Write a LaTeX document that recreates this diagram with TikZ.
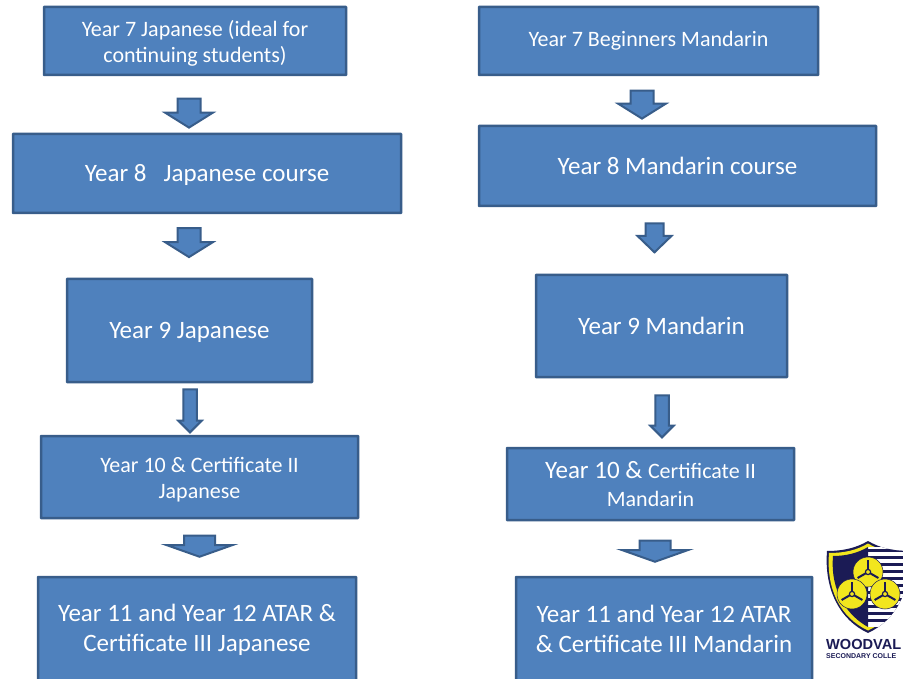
\documentclass[tikz,border=0pt]{standalone}
\usepackage{fontspec}
\usepackage{xcolor}
\setmainfont{Carlito}
\newfontfamily\logofont{Liberation Sans}
\usetikzlibrary{shapes.arrows}
\definecolor{boxfill}{HTML}{4F81BD}
\definecolor{boxline}{HTML}{385D8A}
\definecolor{logonavy}{HTML}{1B1B55}
\definecolor{logoyellow}{HTML}{F2E61E}
\begin{document}
\begin{tikzpicture}[x=1pt,y=-1pt]
		\tikzstyle{course}=[draw=boxline,line width=2.5pt,fill=boxfill,text=white,align=center,rounded corners=0.5pt,inner sep=0pt,font=\fontsize{25}{30}\selectfont]
		\tikzstyle{course_small}=[course,font=\fontsize{22}{26.5}\selectfont]
		\tikzstyle{low}=[text height=20pt]
		\tikzstyle{down}=[draw=boxline,line width=2pt,fill=boxfill,single arrow,rotate=-90,inner sep=0pt,text width=0pt,text depth=0pt,single arrow head indent=0pt]
		\tikzstyle{down_big}=[down,text height=21pt,single arrow head extend=12.5pt,single arrow tip angle=116]
		\tikzstyle{down_wide}=[down,text height=29pt,single arrow head extend=17.5pt,single arrow tip angle=141,minimum height=21pt]
		\tikzstyle{down_thin}=[down,text height=11.5pt,single arrow head extend=5pt,single arrow tip angle=90]
		\tikzstyle{logo_text}=[inner sep=0pt,anchor=west,text=logonavy]

		\clip (0,0) rectangle (903,679);
		\fill[white] (0,0) rectangle (903,679);

		\begin{scope}
			\node [course_small,text height=47pt,minimum width=302pt,minimum height=68pt] (J7) at (195,41) {Year 7 Japanese (ideal for\\continuing students)};
			\node [course,low,minimum width=388pt,minimum height=79pt] (J8) at (207,173.5) {Year 8\ \ \ Japanese course};
			\node [course,low,minimum width=245pt,minimum height=103pt] (J9) at (189.5,330.5) {Year 9 Japanese};
			\node [course_small,text height=47pt,minimum width=317pt,minimum height=82pt] (J10) at (199.5,477) {Year 10 \& Certificate II\\Japanese};
			\node [course,text height=50pt,minimum width=318pt,minimum height=104pt] (J11) at (197,629) {Year 11 and Year 12 ATAR \&\\Certificate III Japanese};

			\node [down_big,minimum height=29pt] (J7-8) at (189,109.5) {};
			\node [down_big,minimum height=29pt] (J8-9) at (189,239) {};
			\node [down_thin,minimum height=43pt] (J9-10) at (190,407.5) {};
			\node [down_wide] (J10-11) at (199.5,543.5) {};
		\end{scope}

		\begin{scope}
			\node [course_small,minimum width=339pt,minimum height=68pt] (M7) at (648.5,41) {Year 7 Beginners Mandarin};
			\node [course,minimum width=397pt,minimum height=80pt] (M8) at (677.5,166) {Year 8 Mandarin course};
			\node [course,minimum width=251pt,minimum height=102pt] (M9) at (661.5,326) {Year 9 Mandarin};
			\node [course,minimum width=287pt,minimum height=72pt] (M10) at (650.5,484) {Year 10 \& {\fontsize{22}{26}\selectfont Certificate II}\\[-2pt]{\fontsize{22}{26}\selectfont Mandarin}};
			\node [course,minimum width=296pt,minimum height=104pt] (M11) at (664,629) {Year 11 and Year 12 ATAR\\\& Certificate III Mandarin};

			\node [down_big,minimum height=28pt] (M7-8) at (642,101) {};
			\node [down_big,minimum height=29pt,text height=16pt,single arrow head extend=8pt,single arrow tip angle=92] (M8-9) at (654.5,233.5) {};
			\node [down_thin,minimum height=42pt] (M9-10) at (662,413) {};
			\node [down_wide] (M10-11) at (655,548.5) {};
		\end{scope}

		\begin{scope}
			\path[clip] (827,551) .. controls (843,551) and (856,548) .. (868,541) .. controls (880,548) and (893,551) .. (909,551) .. controls (912,590) and (896,620) .. (868,633) .. controls (840,620) and (824,590) .. (827,551) -- cycle;
			\fill[logonavy] (820,535) rectangle (915,640);
			\path[fill=logoyellow] (829,553) .. controls (845,553) and (857,550) .. (868,543.5) .. controls (879,550) and (891,553) .. (907,553) .. controls (910,590) and (895,618) .. (868,630.5) .. controls (841,618) and (826,590) .. (829,553) -- cycle;
			\fill[white] (868,547) rectangle (915,627);
			\foreach \y in {549,556,...,621}
				\fill[logonavy] (868,\y) rectangle (915,\y+3);
			\path[fill=logonavy] (868,547) -- (868,627) .. controls (848,616) and (830,592) .. (833,556) .. controls (846,556) and (858,553) .. (868,547) -- cycle;
		\end{scope}
		\foreach \cx/\cy in {868/572,852/594,885/594} {
			\draw[logonavy,fill=logoyellow,line width=0.5pt] (\cx,\cy) circle (15);
			\foreach \a in {-90,30,150}
				\draw[logonavy,line width=2pt] (\cx,\cy) -- ++(\a:12);
			\draw[logonavy,fill=logoyellow,line width=1.2pt] (\cx,\cy) circle (2.6);
		}
		\node [logo_text,font=\logofont\bfseries\fontsize{14.6}{14.6}\selectfont] (logo_name) at (826,644.5) {WOODVAL};
		\node [logo_text,font=\logofont\bfseries\fontsize{7}{7}\selectfont] (logo_school) at (826,656) {SECONDARY COLLE};
	\end{tikzpicture}
\end{document}
